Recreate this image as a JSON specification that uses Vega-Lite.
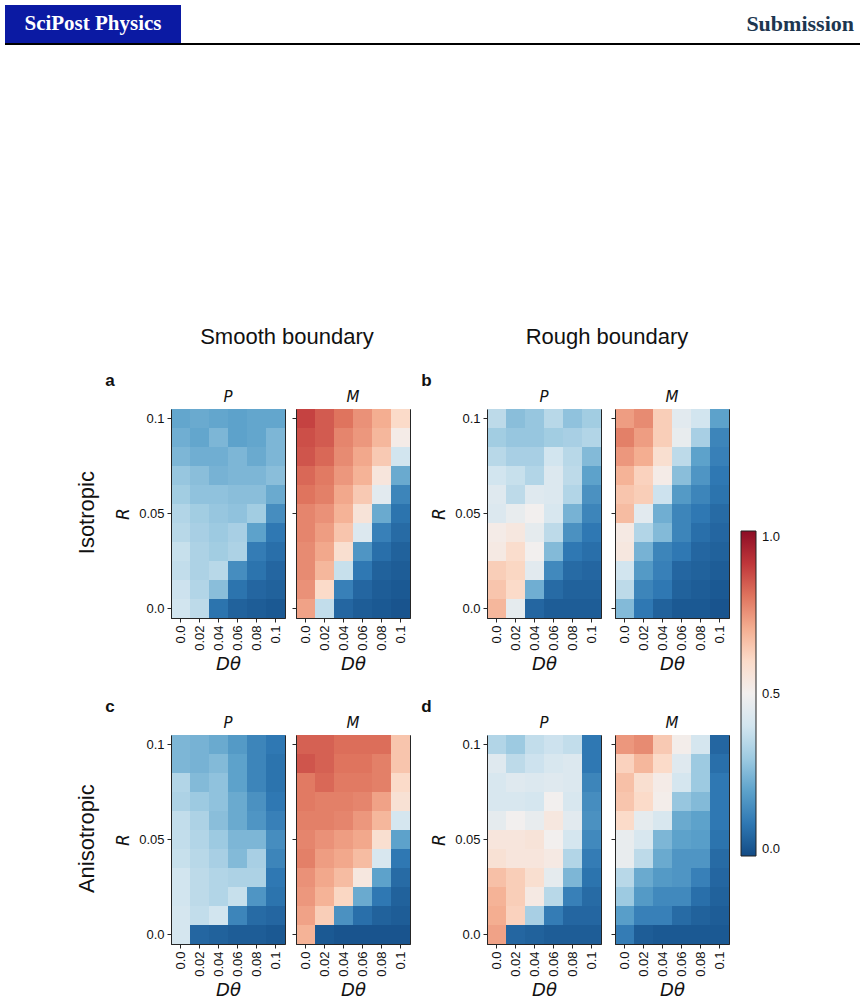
{
"$schema":"https://vega.github.io/schema/vega-lite/v6.json",
"padding":{"left":5,"top":5,"right":0,"bottom":0},
"background":"white",
"datasets":{"cells":[
{"s":"a","k":"P","R":0.1,"D":0,"v":0.21},{"s":"a","k":"P","R":0.1,"D":0.02,"v":0.22},{"s":"a","k":"P","R":0.1,"D":0.04,"v":0.21},{"s":"a","k":"P","R":0.1,"D":0.06,"v":0.2},{"s":"a","k":"P","R":0.1,"D":0.08,"v":0.21},{"s":"a","k":"P","R":0.1,"D":0.1,"v":0.21},
{"s":"a","k":"P","R":0.09,"D":0,"v":0.23},{"s":"a","k":"P","R":0.09,"D":0.02,"v":0.21},{"s":"a","k":"P","R":0.09,"D":0.04,"v":0.25},{"s":"a","k":"P","R":0.09,"D":0.06,"v":0.2},{"s":"a","k":"P","R":0.09,"D":0.08,"v":0.21},{"s":"a","k":"P","R":0.09,"D":0.1,"v":0.25},
{"s":"a","k":"P","R":0.08,"D":0,"v":0.25},{"s":"a","k":"P","R":0.08,"D":0.02,"v":0.23},{"s":"a","k":"P","R":0.08,"D":0.04,"v":0.23},{"s":"a","k":"P","R":0.08,"D":0.06,"v":0.25},{"s":"a","k":"P","R":0.08,"D":0.08,"v":0.22},{"s":"a","k":"P","R":0.08,"D":0.1,"v":0.25},
{"s":"a","k":"P","R":0.07,"D":0,"v":0.29},{"s":"a","k":"P","R":0.07,"D":0.02,"v":0.27},{"s":"a","k":"P","R":0.07,"D":0.04,"v":0.24},{"s":"a","k":"P","R":0.07,"D":0.06,"v":0.25},{"s":"a","k":"P","R":0.07,"D":0.08,"v":0.25},{"s":"a","k":"P","R":0.07,"D":0.1,"v":0.27},
{"s":"a","k":"P","R":0.06,"D":0,"v":0.31},{"s":"a","k":"P","R":0.06,"D":0.02,"v":0.28},{"s":"a","k":"P","R":0.06,"D":0.04,"v":0.28},{"s":"a","k":"P","R":0.06,"D":0.06,"v":0.27},{"s":"a","k":"P","R":0.06,"D":0.08,"v":0.27},{"s":"a","k":"P","R":0.06,"D":0.1,"v":0.22},
{"s":"a","k":"P","R":0.05,"D":0,"v":0.34},{"s":"a","k":"P","R":0.05,"D":0.02,"v":0.31},{"s":"a","k":"P","R":0.05,"D":0.04,"v":0.29},{"s":"a","k":"P","R":0.05,"D":0.06,"v":0.28},{"s":"a","k":"P","R":0.05,"D":0.08,"v":0.31},{"s":"a","k":"P","R":0.05,"D":0.1,"v":0.15},
{"s":"a","k":"P","R":0.04,"D":0,"v":0.35},{"s":"a","k":"P","R":0.04,"D":0.02,"v":0.32},{"s":"a","k":"P","R":0.04,"D":0.04,"v":0.3},{"s":"a","k":"P","R":0.04,"D":0.06,"v":0.32},{"s":"a","k":"P","R":0.04,"D":0.08,"v":0.2},{"s":"a","k":"P","R":0.04,"D":0.1,"v":0.1},
{"s":"a","k":"P","R":0.03,"D":0,"v":0.38},{"s":"a","k":"P","R":0.03,"D":0.02,"v":0.33},{"s":"a","k":"P","R":0.03,"D":0.04,"v":0.31},{"s":"a","k":"P","R":0.03,"D":0.06,"v":0.33},{"s":"a","k":"P","R":0.03,"D":0.08,"v":0.11},{"s":"a","k":"P","R":0.03,"D":0.1,"v":0.08},
{"s":"a","k":"P","R":0.02,"D":0,"v":0.37},{"s":"a","k":"P","R":0.02,"D":0.02,"v":0.33},{"s":"a","k":"P","R":0.02,"D":0.04,"v":0.35},{"s":"a","k":"P","R":0.02,"D":0.06,"v":0.15},{"s":"a","k":"P","R":0.02,"D":0.08,"v":0.09},{"s":"a","k":"P","R":0.02,"D":0.1,"v":0.06},
{"s":"a","k":"P","R":0.01,"D":0,"v":0.39},{"s":"a","k":"P","R":0.01,"D":0.02,"v":0.34},{"s":"a","k":"P","R":0.01,"D":0.04,"v":0.27},{"s":"a","k":"P","R":0.01,"D":0.06,"v":0.09},{"s":"a","k":"P","R":0.01,"D":0.08,"v":0.06},{"s":"a","k":"P","R":0.01,"D":0.1,"v":0.05},
{"s":"a","k":"P","R":0,"D":0,"v":0.4},{"s":"a","k":"P","R":0,"D":0.02,"v":0.36},{"s":"a","k":"P","R":0,"D":0.04,"v":0.09},{"s":"a","k":"P","R":0,"D":0.06,"v":0.05},{"s":"a","k":"P","R":0,"D":0.08,"v":0.04},{"s":"a","k":"P","R":0,"D":0.1,"v":0.03},
{"s":"a","k":"M","R":0.1,"D":0,"v":0.88},{"s":"a","k":"M","R":0.1,"D":0.02,"v":0.84},{"s":"a","k":"M","R":0.1,"D":0.04,"v":0.8},{"s":"a","k":"M","R":0.1,"D":0.06,"v":0.75},{"s":"a","k":"M","R":0.1,"D":0.08,"v":0.7},{"s":"a","k":"M","R":0.1,"D":0.1,"v":0.6},
{"s":"a","k":"M","R":0.09,"D":0,"v":0.86},{"s":"a","k":"M","R":0.09,"D":0.02,"v":0.84},{"s":"a","k":"M","R":0.09,"D":0.04,"v":0.77},{"s":"a","k":"M","R":0.09,"D":0.06,"v":0.74},{"s":"a","k":"M","R":0.09,"D":0.08,"v":0.68},{"s":"a","k":"M","R":0.09,"D":0.1,"v":0.52},
{"s":"a","k":"M","R":0.08,"D":0,"v":0.85},{"s":"a","k":"M","R":0.08,"D":0.02,"v":0.82},{"s":"a","k":"M","R":0.08,"D":0.04,"v":0.76},{"s":"a","k":"M","R":0.08,"D":0.06,"v":0.71},{"s":"a","k":"M","R":0.08,"D":0.08,"v":0.64},{"s":"a","k":"M","R":0.08,"D":0.1,"v":0.4},
{"s":"a","k":"M","R":0.07,"D":0,"v":0.82},{"s":"a","k":"M","R":0.07,"D":0.02,"v":0.79},{"s":"a","k":"M","R":0.07,"D":0.04,"v":0.74},{"s":"a","k":"M","R":0.07,"D":0.06,"v":0.69},{"s":"a","k":"M","R":0.07,"D":0.08,"v":0.55},{"s":"a","k":"M","R":0.07,"D":0.1,"v":0.22},
{"s":"a","k":"M","R":0.06,"D":0,"v":0.8},{"s":"a","k":"M","R":0.06,"D":0.02,"v":0.78},{"s":"a","k":"M","R":0.06,"D":0.04,"v":0.71},{"s":"a","k":"M","R":0.06,"D":0.06,"v":0.64},{"s":"a","k":"M","R":0.06,"D":0.08,"v":0.45},{"s":"a","k":"M","R":0.06,"D":0.1,"v":0.13},
{"s":"a","k":"M","R":0.05,"D":0,"v":0.77},{"s":"a","k":"M","R":0.05,"D":0.02,"v":0.75},{"s":"a","k":"M","R":0.05,"D":0.04,"v":0.69},{"s":"a","k":"M","R":0.05,"D":0.06,"v":0.56},{"s":"a","k":"M","R":0.05,"D":0.08,"v":0.22},{"s":"a","k":"M","R":0.05,"D":0.1,"v":0.09},
{"s":"a","k":"M","R":0.04,"D":0,"v":0.77},{"s":"a","k":"M","R":0.04,"D":0.02,"v":0.73},{"s":"a","k":"M","R":0.04,"D":0.04,"v":0.65},{"s":"a","k":"M","R":0.04,"D":0.06,"v":0.43},{"s":"a","k":"M","R":0.04,"D":0.08,"v":0.12},{"s":"a","k":"M","R":0.04,"D":0.1,"v":0.07},
{"s":"a","k":"M","R":0.03,"D":0,"v":0.76},{"s":"a","k":"M","R":0.03,"D":0.02,"v":0.71},{"s":"a","k":"M","R":0.03,"D":0.04,"v":0.58},{"s":"a","k":"M","R":0.03,"D":0.06,"v":0.17},{"s":"a","k":"M","R":0.03,"D":0.08,"v":0.08},{"s":"a","k":"M","R":0.03,"D":0.1,"v":0.05},
{"s":"a","k":"M","R":0.02,"D":0,"v":0.76},{"s":"a","k":"M","R":0.02,"D":0.02,"v":0.68},{"s":"a","k":"M","R":0.02,"D":0.04,"v":0.38},{"s":"a","k":"M","R":0.02,"D":0.06,"v":0.1},{"s":"a","k":"M","R":0.02,"D":0.08,"v":0.05},{"s":"a","k":"M","R":0.02,"D":0.1,"v":0.04},
{"s":"a","k":"M","R":0.01,"D":0,"v":0.75},{"s":"a","k":"M","R":0.01,"D":0.02,"v":0.6},{"s":"a","k":"M","R":0.01,"D":0.04,"v":0.12},{"s":"a","k":"M","R":0.01,"D":0.06,"v":0.06},{"s":"a","k":"M","R":0.01,"D":0.08,"v":0.04},{"s":"a","k":"M","R":0.01,"D":0.1,"v":0.03},
{"s":"a","k":"M","R":0,"D":0,"v":0.72},{"s":"a","k":"M","R":0,"D":0.02,"v":0.37},{"s":"a","k":"M","R":0,"D":0.04,"v":0.06},{"s":"a","k":"M","R":0,"D":0.06,"v":0.04},{"s":"a","k":"M","R":0,"D":0.08,"v":0.03},{"s":"a","k":"M","R":0,"D":0.1,"v":0.02},
{"s":"b","k":"P","R":0.1,"D":0,"v":0.36},{"s":"b","k":"P","R":0.1,"D":0.02,"v":0.27},{"s":"b","k":"P","R":0.1,"D":0.04,"v":0.29},{"s":"b","k":"P","R":0.1,"D":0.06,"v":0.35},{"s":"b","k":"P","R":0.1,"D":0.08,"v":0.28},{"s":"b","k":"P","R":0.1,"D":0.1,"v":0.31},
{"s":"b","k":"P","R":0.09,"D":0,"v":0.31},{"s":"b","k":"P","R":0.09,"D":0.02,"v":0.29},{"s":"b","k":"P","R":0.09,"D":0.04,"v":0.29},{"s":"b","k":"P","R":0.09,"D":0.06,"v":0.31},{"s":"b","k":"P","R":0.09,"D":0.08,"v":0.32},{"s":"b","k":"P","R":0.09,"D":0.1,"v":0.34},
{"s":"b","k":"P","R":0.08,"D":0,"v":0.35},{"s":"b","k":"P","R":0.08,"D":0.02,"v":0.32},{"s":"b","k":"P","R":0.08,"D":0.04,"v":0.32},{"s":"b","k":"P","R":0.08,"D":0.06,"v":0.4},{"s":"b","k":"P","R":0.08,"D":0.08,"v":0.35},{"s":"b","k":"P","R":0.08,"D":0.1,"v":0.26},
{"s":"b","k":"P","R":0.07,"D":0,"v":0.4},{"s":"b","k":"P","R":0.07,"D":0.02,"v":0.38},{"s":"b","k":"P","R":0.07,"D":0.04,"v":0.34},{"s":"b","k":"P","R":0.07,"D":0.06,"v":0.43},{"s":"b","k":"P","R":0.07,"D":0.08,"v":0.36},{"s":"b","k":"P","R":0.07,"D":0.1,"v":0.2},
{"s":"b","k":"P","R":0.06,"D":0,"v":0.44},{"s":"b","k":"P","R":0.06,"D":0.02,"v":0.36},{"s":"b","k":"P","R":0.06,"D":0.04,"v":0.44},{"s":"b","k":"P","R":0.06,"D":0.06,"v":0.43},{"s":"b","k":"P","R":0.06,"D":0.08,"v":0.34},{"s":"b","k":"P","R":0.06,"D":0.1,"v":0.16},
{"s":"b","k":"P","R":0.05,"D":0,"v":0.43},{"s":"b","k":"P","R":0.05,"D":0.02,"v":0.47},{"s":"b","k":"P","R":0.05,"D":0.04,"v":0.5},{"s":"b","k":"P","R":0.05,"D":0.06,"v":0.42},{"s":"b","k":"P","R":0.05,"D":0.08,"v":0.24},{"s":"b","k":"P","R":0.05,"D":0.1,"v":0.13},
{"s":"b","k":"P","R":0.04,"D":0,"v":0.52},{"s":"b","k":"P","R":0.04,"D":0.02,"v":0.54},{"s":"b","k":"P","R":0.04,"D":0.04,"v":0.46},{"s":"b","k":"P","R":0.04,"D":0.06,"v":0.36},{"s":"b","k":"P","R":0.04,"D":0.08,"v":0.16},{"s":"b","k":"P","R":0.04,"D":0.1,"v":0.1},
{"s":"b","k":"P","R":0.03,"D":0,"v":0.53},{"s":"b","k":"P","R":0.03,"D":0.02,"v":0.59},{"s":"b","k":"P","R":0.03,"D":0.04,"v":0.5},{"s":"b","k":"P","R":0.03,"D":0.06,"v":0.26},{"s":"b","k":"P","R":0.03,"D":0.08,"v":0.1},{"s":"b","k":"P","R":0.03,"D":0.1,"v":0.08},
{"s":"b","k":"P","R":0.02,"D":0,"v":0.63},{"s":"b","k":"P","R":0.02,"D":0.02,"v":0.61},{"s":"b","k":"P","R":0.02,"D":0.04,"v":0.45},{"s":"b","k":"P","R":0.02,"D":0.06,"v":0.14},{"s":"b","k":"P","R":0.02,"D":0.08,"v":0.07},{"s":"b","k":"P","R":0.02,"D":0.1,"v":0.06},
{"s":"b","k":"P","R":0.01,"D":0,"v":0.65},{"s":"b","k":"P","R":0.01,"D":0.02,"v":0.6},{"s":"b","k":"P","R":0.01,"D":0.04,"v":0.23},{"s":"b","k":"P","R":0.01,"D":0.06,"v":0.07},{"s":"b","k":"P","R":0.01,"D":0.08,"v":0.05},{"s":"b","k":"P","R":0.01,"D":0.1,"v":0.05},
{"s":"b","k":"P","R":0,"D":0,"v":0.68},{"s":"b","k":"P","R":0,"D":0.02,"v":0.46},{"s":"b","k":"P","R":0,"D":0.04,"v":0.06},{"s":"b","k":"P","R":0,"D":0.06,"v":0.04},{"s":"b","k":"P","R":0,"D":0.08,"v":0.04},{"s":"b","k":"P","R":0,"D":0.1,"v":0.04},
{"s":"b","k":"M","R":0.1,"D":0,"v":0.73},{"s":"b","k":"M","R":0.1,"D":0.02,"v":0.76},{"s":"b","k":"M","R":0.1,"D":0.04,"v":0.63},{"s":"b","k":"M","R":0.1,"D":0.06,"v":0.45},{"s":"b","k":"M","R":0.1,"D":0.08,"v":0.4},{"s":"b","k":"M","R":0.1,"D":0.1,"v":0.2},
{"s":"b","k":"M","R":0.09,"D":0,"v":0.78},{"s":"b","k":"M","R":0.09,"D":0.02,"v":0.73},{"s":"b","k":"M","R":0.09,"D":0.04,"v":0.63},{"s":"b","k":"M","R":0.09,"D":0.06,"v":0.47},{"s":"b","k":"M","R":0.09,"D":0.08,"v":0.32},{"s":"b","k":"M","R":0.09,"D":0.1,"v":0.13},
{"s":"b","k":"M","R":0.08,"D":0,"v":0.74},{"s":"b","k":"M","R":0.08,"D":0.02,"v":0.7},{"s":"b","k":"M","R":0.08,"D":0.04,"v":0.58},{"s":"b","k":"M","R":0.08,"D":0.06,"v":0.36},{"s":"b","k":"M","R":0.08,"D":0.08,"v":0.2},{"s":"b","k":"M","R":0.08,"D":0.1,"v":0.12},
{"s":"b","k":"M","R":0.07,"D":0,"v":0.69},{"s":"b","k":"M","R":0.07,"D":0.02,"v":0.62},{"s":"b","k":"M","R":0.07,"D":0.04,"v":0.52},{"s":"b","k":"M","R":0.07,"D":0.06,"v":0.27},{"s":"b","k":"M","R":0.07,"D":0.08,"v":0.17},{"s":"b","k":"M","R":0.07,"D":0.1,"v":0.1},
{"s":"b","k":"M","R":0.06,"D":0,"v":0.65},{"s":"b","k":"M","R":0.06,"D":0.02,"v":0.63},{"s":"b","k":"M","R":0.06,"D":0.04,"v":0.39},{"s":"b","k":"M","R":0.06,"D":0.06,"v":0.18},{"s":"b","k":"M","R":0.06,"D":0.08,"v":0.13},{"s":"b","k":"M","R":0.06,"D":0.1,"v":0.09},
{"s":"b","k":"M","R":0.05,"D":0,"v":0.67},{"s":"b","k":"M","R":0.05,"D":0.02,"v":0.45},{"s":"b","k":"M","R":0.05,"D":0.04,"v":0.23},{"s":"b","k":"M","R":0.05,"D":0.06,"v":0.13},{"s":"b","k":"M","R":0.05,"D":0.08,"v":0.1},{"s":"b","k":"M","R":0.05,"D":0.1,"v":0.07},
{"s":"b","k":"M","R":0.04,"D":0,"v":0.53},{"s":"b","k":"M","R":0.04,"D":0.02,"v":0.34},{"s":"b","k":"M","R":0.04,"D":0.04,"v":0.26},{"s":"b","k":"M","R":0.04,"D":0.06,"v":0.13},{"s":"b","k":"M","R":0.04,"D":0.08,"v":0.08},{"s":"b","k":"M","R":0.04,"D":0.1,"v":0.06},
{"s":"b","k":"M","R":0.03,"D":0,"v":0.54},{"s":"b","k":"M","R":0.03,"D":0.02,"v":0.24},{"s":"b","k":"M","R":0.03,"D":0.04,"v":0.13},{"s":"b","k":"M","R":0.03,"D":0.06,"v":0.1},{"s":"b","k":"M","R":0.03,"D":0.08,"v":0.06},{"s":"b","k":"M","R":0.03,"D":0.1,"v":0.05},
{"s":"b","k":"M","R":0.02,"D":0,"v":0.4},{"s":"b","k":"M","R":0.02,"D":0.02,"v":0.18},{"s":"b","k":"M","R":0.02,"D":0.04,"v":0.12},{"s":"b","k":"M","R":0.02,"D":0.06,"v":0.06},{"s":"b","k":"M","R":0.02,"D":0.08,"v":0.05},{"s":"b","k":"M","R":0.02,"D":0.1,"v":0.04},
{"s":"b","k":"M","R":0.01,"D":0,"v":0.36},{"s":"b","k":"M","R":0.01,"D":0.02,"v":0.13},{"s":"b","k":"M","R":0.01,"D":0.04,"v":0.1},{"s":"b","k":"M","R":0.01,"D":0.06,"v":0.05},{"s":"b","k":"M","R":0.01,"D":0.08,"v":0.04},{"s":"b","k":"M","R":0.01,"D":0.1,"v":0.03},
{"s":"b","k":"M","R":0,"D":0,"v":0.26},{"s":"b","k":"M","R":0,"D":0.02,"v":0.1},{"s":"b","k":"M","R":0,"D":0.04,"v":0.05},{"s":"b","k":"M","R":0,"D":0.06,"v":0.03},{"s":"b","k":"M","R":0,"D":0.08,"v":0.03},{"s":"b","k":"M","R":0,"D":0.1,"v":0.02},
{"s":"c","k":"P","R":0.1,"D":0,"v":0.25},{"s":"c","k":"P","R":0.1,"D":0.02,"v":0.24},{"s":"c","k":"P","R":0.1,"D":0.04,"v":0.22},{"s":"c","k":"P","R":0.1,"D":0.06,"v":0.18},{"s":"c","k":"P","R":0.1,"D":0.08,"v":0.13},{"s":"c","k":"P","R":0.1,"D":0.1,"v":0.1},
{"s":"c","k":"P","R":0.09,"D":0,"v":0.25},{"s":"c","k":"P","R":0.09,"D":0.02,"v":0.24},{"s":"c","k":"P","R":0.09,"D":0.04,"v":0.26},{"s":"c","k":"P","R":0.09,"D":0.06,"v":0.2},{"s":"c","k":"P","R":0.09,"D":0.08,"v":0.13},{"s":"c","k":"P","R":0.09,"D":0.1,"v":0.09},
{"s":"c","k":"P","R":0.08,"D":0,"v":0.34},{"s":"c","k":"P","R":0.08,"D":0.02,"v":0.26},{"s":"c","k":"P","R":0.08,"D":0.04,"v":0.28},{"s":"c","k":"P","R":0.08,"D":0.06,"v":0.2},{"s":"c","k":"P","R":0.08,"D":0.08,"v":0.13},{"s":"c","k":"P","R":0.08,"D":0.1,"v":0.09},
{"s":"c","k":"P","R":0.07,"D":0,"v":0.33},{"s":"c","k":"P","R":0.07,"D":0.02,"v":0.3},{"s":"c","k":"P","R":0.07,"D":0.04,"v":0.28},{"s":"c","k":"P","R":0.07,"D":0.06,"v":0.22},{"s":"c","k":"P","R":0.07,"D":0.08,"v":0.16},{"s":"c","k":"P","R":0.07,"D":0.1,"v":0.1},
{"s":"c","k":"P","R":0.06,"D":0,"v":0.37},{"s":"c","k":"P","R":0.06,"D":0.02,"v":0.33},{"s":"c","k":"P","R":0.06,"D":0.04,"v":0.27},{"s":"c","k":"P","R":0.06,"D":0.06,"v":0.22},{"s":"c","k":"P","R":0.06,"D":0.08,"v":0.17},{"s":"c","k":"P","R":0.06,"D":0.1,"v":0.12},
{"s":"c","k":"P","R":0.05,"D":0,"v":0.37},{"s":"c","k":"P","R":0.05,"D":0.02,"v":0.34},{"s":"c","k":"P","R":0.05,"D":0.04,"v":0.3},{"s":"c","k":"P","R":0.05,"D":0.06,"v":0.25},{"s":"c","k":"P","R":0.05,"D":0.08,"v":0.25},{"s":"c","k":"P","R":0.05,"D":0.1,"v":0.15},
{"s":"c","k":"P","R":0.04,"D":0,"v":0.38},{"s":"c","k":"P","R":0.04,"D":0.02,"v":0.35},{"s":"c","k":"P","R":0.04,"D":0.04,"v":0.32},{"s":"c","k":"P","R":0.04,"D":0.06,"v":0.26},{"s":"c","k":"P","R":0.04,"D":0.08,"v":0.32},{"s":"c","k":"P","R":0.04,"D":0.1,"v":0.13},
{"s":"c","k":"P","R":0.03,"D":0,"v":0.4},{"s":"c","k":"P","R":0.03,"D":0.02,"v":0.36},{"s":"c","k":"P","R":0.03,"D":0.04,"v":0.34},{"s":"c","k":"P","R":0.03,"D":0.06,"v":0.33},{"s":"c","k":"P","R":0.03,"D":0.08,"v":0.33},{"s":"c","k":"P","R":0.03,"D":0.1,"v":0.1},
{"s":"c","k":"P","R":0.02,"D":0,"v":0.4},{"s":"c","k":"P","R":0.02,"D":0.02,"v":0.36},{"s":"c","k":"P","R":0.02,"D":0.04,"v":0.34},{"s":"c","k":"P","R":0.02,"D":0.06,"v":0.38},{"s":"c","k":"P","R":0.02,"D":0.08,"v":0.17},{"s":"c","k":"P","R":0.02,"D":0.1,"v":0.09},
{"s":"c","k":"P","R":0.01,"D":0,"v":0.41},{"s":"c","k":"P","R":0.01,"D":0.02,"v":0.37},{"s":"c","k":"P","R":0.01,"D":0.04,"v":0.4},{"s":"c","k":"P","R":0.01,"D":0.06,"v":0.13},{"s":"c","k":"P","R":0.01,"D":0.08,"v":0.07},{"s":"c","k":"P","R":0.01,"D":0.1,"v":0.06},
{"s":"c","k":"P","R":0,"D":0,"v":0.41},{"s":"c","k":"P","R":0,"D":0.02,"v":0.06},{"s":"c","k":"P","R":0,"D":0.04,"v":0.05},{"s":"c","k":"P","R":0,"D":0.06,"v":0.04},{"s":"c","k":"P","R":0,"D":0.08,"v":0.04},{"s":"c","k":"P","R":0,"D":0.1,"v":0.03},
{"s":"c","k":"M","R":0.1,"D":0,"v":0.83},{"s":"c","k":"M","R":0.1,"D":0.02,"v":0.83},{"s":"c","k":"M","R":0.1,"D":0.04,"v":0.81},{"s":"c","k":"M","R":0.1,"D":0.06,"v":0.81},{"s":"c","k":"M","R":0.1,"D":0.08,"v":0.81},{"s":"c","k":"M","R":0.1,"D":0.1,"v":0.65},
{"s":"c","k":"M","R":0.09,"D":0,"v":0.85},{"s":"c","k":"M","R":0.09,"D":0.02,"v":0.83},{"s":"c","k":"M","R":0.09,"D":0.04,"v":0.8},{"s":"c","k":"M","R":0.09,"D":0.06,"v":0.8},{"s":"c","k":"M","R":0.09,"D":0.08,"v":0.78},{"s":"c","k":"M","R":0.09,"D":0.1,"v":0.65},
{"s":"c","k":"M","R":0.08,"D":0,"v":0.79},{"s":"c","k":"M","R":0.08,"D":0.02,"v":0.82},{"s":"c","k":"M","R":0.08,"D":0.04,"v":0.79},{"s":"c","k":"M","R":0.08,"D":0.06,"v":0.79},{"s":"c","k":"M","R":0.08,"D":0.08,"v":0.78},{"s":"c","k":"M","R":0.08,"D":0.1,"v":0.6},
{"s":"c","k":"M","R":0.07,"D":0,"v":0.79},{"s":"c","k":"M","R":0.07,"D":0.02,"v":0.78},{"s":"c","k":"M","R":0.07,"D":0.04,"v":0.78},{"s":"c","k":"M","R":0.07,"D":0.06,"v":0.77},{"s":"c","k":"M","R":0.07,"D":0.08,"v":0.72},{"s":"c","k":"M","R":0.07,"D":0.1,"v":0.57},
{"s":"c","k":"M","R":0.06,"D":0,"v":0.78},{"s":"c","k":"M","R":0.06,"D":0.02,"v":0.78},{"s":"c","k":"M","R":0.06,"D":0.04,"v":0.77},{"s":"c","k":"M","R":0.06,"D":0.06,"v":0.74},{"s":"c","k":"M","R":0.06,"D":0.08,"v":0.68},{"s":"c","k":"M","R":0.06,"D":0.1,"v":0.41},
{"s":"c","k":"M","R":0.05,"D":0,"v":0.77},{"s":"c","k":"M","R":0.05,"D":0.02,"v":0.75},{"s":"c","k":"M","R":0.05,"D":0.04,"v":0.73},{"s":"c","k":"M","R":0.05,"D":0.06,"v":0.71},{"s":"c","k":"M","R":0.05,"D":0.08,"v":0.58},{"s":"c","k":"M","R":0.05,"D":0.1,"v":0.2},
{"s":"c","k":"M","R":0.04,"D":0,"v":0.78},{"s":"c","k":"M","R":0.04,"D":0.02,"v":0.73},{"s":"c","k":"M","R":0.04,"D":0.04,"v":0.71},{"s":"c","k":"M","R":0.04,"D":0.06,"v":0.67},{"s":"c","k":"M","R":0.04,"D":0.08,"v":0.42},{"s":"c","k":"M","R":0.04,"D":0.1,"v":0.1},
{"s":"c","k":"M","R":0.03,"D":0,"v":0.75},{"s":"c","k":"M","R":0.03,"D":0.02,"v":0.71},{"s":"c","k":"M","R":0.03,"D":0.04,"v":0.67},{"s":"c","k":"M","R":0.03,"D":0.06,"v":0.54},{"s":"c","k":"M","R":0.03,"D":0.08,"v":0.2},{"s":"c","k":"M","R":0.03,"D":0.1,"v":0.07},
{"s":"c","k":"M","R":0.02,"D":0,"v":0.74},{"s":"c","k":"M","R":0.02,"D":0.02,"v":0.69},{"s":"c","k":"M","R":0.02,"D":0.04,"v":0.61},{"s":"c","k":"M","R":0.02,"D":0.06,"v":0.22},{"s":"c","k":"M","R":0.02,"D":0.08,"v":0.1},{"s":"c","k":"M","R":0.02,"D":0.1,"v":0.05},
{"s":"c","k":"M","R":0.01,"D":0,"v":0.72},{"s":"c","k":"M","R":0.01,"D":0.02,"v":0.63},{"s":"c","k":"M","R":0.01,"D":0.04,"v":0.16},{"s":"c","k":"M","R":0.01,"D":0.06,"v":0.08},{"s":"c","k":"M","R":0.01,"D":0.08,"v":0.05},{"s":"c","k":"M","R":0.01,"D":0.1,"v":0.04},
{"s":"c","k":"M","R":0,"D":0,"v":0.69},{"s":"c","k":"M","R":0,"D":0.02,"v":0.03},{"s":"c","k":"M","R":0,"D":0.04,"v":0.02},{"s":"c","k":"M","R":0,"D":0.06,"v":0.02},{"s":"c","k":"M","R":0,"D":0.08,"v":0.02},{"s":"c","k":"M","R":0,"D":0.1,"v":0.02},
{"s":"d","k":"P","R":0.1,"D":0,"v":0.34},{"s":"d","k":"P","R":0.1,"D":0.02,"v":0.3},{"s":"d","k":"P","R":0.1,"D":0.04,"v":0.37},{"s":"d","k":"P","R":0.1,"D":0.06,"v":0.39},{"s":"d","k":"P","R":0.1,"D":0.08,"v":0.37},{"s":"d","k":"P","R":0.1,"D":0.1,"v":0.1},
{"s":"d","k":"P","R":0.09,"D":0,"v":0.44},{"s":"d","k":"P","R":0.09,"D":0.02,"v":0.36},{"s":"d","k":"P","R":0.09,"D":0.04,"v":0.39},{"s":"d","k":"P","R":0.09,"D":0.06,"v":0.42},{"s":"d","k":"P","R":0.09,"D":0.08,"v":0.43},{"s":"d","k":"P","R":0.09,"D":0.1,"v":0.1},
{"s":"d","k":"P","R":0.08,"D":0,"v":0.42},{"s":"d","k":"P","R":0.08,"D":0.02,"v":0.44},{"s":"d","k":"P","R":0.08,"D":0.04,"v":0.43},{"s":"d","k":"P","R":0.08,"D":0.06,"v":0.44},{"s":"d","k":"P","R":0.08,"D":0.08,"v":0.43},{"s":"d","k":"P","R":0.08,"D":0.1,"v":0.13},
{"s":"d","k":"P","R":0.07,"D":0,"v":0.42},{"s":"d","k":"P","R":0.07,"D":0.02,"v":0.42},{"s":"d","k":"P","R":0.07,"D":0.04,"v":0.41},{"s":"d","k":"P","R":0.07,"D":0.06,"v":0.5},{"s":"d","k":"P","R":0.07,"D":0.08,"v":0.42},{"s":"d","k":"P","R":0.07,"D":0.1,"v":0.15},
{"s":"d","k":"P","R":0.06,"D":0,"v":0.46},{"s":"d","k":"P","R":0.06,"D":0.02,"v":0.5},{"s":"d","k":"P","R":0.06,"D":0.04,"v":0.47},{"s":"d","k":"P","R":0.06,"D":0.06,"v":0.54},{"s":"d","k":"P","R":0.06,"D":0.08,"v":0.45},{"s":"d","k":"P","R":0.06,"D":0.1,"v":0.16},
{"s":"d","k":"P","R":0.05,"D":0,"v":0.55},{"s":"d","k":"P","R":0.05,"D":0.02,"v":0.55},{"s":"d","k":"P","R":0.05,"D":0.04,"v":0.56},{"s":"d","k":"P","R":0.05,"D":0.06,"v":0.5},{"s":"d","k":"P","R":0.05,"D":0.08,"v":0.41},{"s":"d","k":"P","R":0.05,"D":0.1,"v":0.14},
{"s":"d","k":"P","R":0.04,"D":0,"v":0.57},{"s":"d","k":"P","R":0.04,"D":0.02,"v":0.55},{"s":"d","k":"P","R":0.04,"D":0.04,"v":0.55},{"s":"d","k":"P","R":0.04,"D":0.06,"v":0.53},{"s":"d","k":"P","R":0.04,"D":0.08,"v":0.34},{"s":"d","k":"P","R":0.04,"D":0.1,"v":0.11},
{"s":"d","k":"P","R":0.03,"D":0,"v":0.66},{"s":"d","k":"P","R":0.03,"D":0.02,"v":0.63},{"s":"d","k":"P","R":0.03,"D":0.04,"v":0.58},{"s":"d","k":"P","R":0.03,"D":0.06,"v":0.46},{"s":"d","k":"P","R":0.03,"D":0.08,"v":0.25},{"s":"d","k":"P","R":0.03,"D":0.1,"v":0.09},
{"s":"d","k":"P","R":0.02,"D":0,"v":0.69},{"s":"d","k":"P","R":0.02,"D":0.02,"v":0.63},{"s":"d","k":"P","R":0.02,"D":0.04,"v":0.53},{"s":"d","k":"P","R":0.02,"D":0.06,"v":0.35},{"s":"d","k":"P","R":0.02,"D":0.08,"v":0.12},{"s":"d","k":"P","R":0.02,"D":0.1,"v":0.07},
{"s":"d","k":"P","R":0.01,"D":0,"v":0.7},{"s":"d","k":"P","R":0.01,"D":0.02,"v":0.62},{"s":"d","k":"P","R":0.01,"D":0.04,"v":0.32},{"s":"d","k":"P","R":0.01,"D":0.06,"v":0.11},{"s":"d","k":"P","R":0.01,"D":0.08,"v":0.06},{"s":"d","k":"P","R":0.01,"D":0.1,"v":0.06},
{"s":"d","k":"P","R":0,"D":0,"v":0.72},{"s":"d","k":"P","R":0,"D":0.02,"v":0.06},{"s":"d","k":"P","R":0,"D":0.04,"v":0.05},{"s":"d","k":"P","R":0,"D":0.06,"v":0.04},{"s":"d","k":"P","R":0,"D":0.08,"v":0.04},{"s":"d","k":"P","R":0,"D":0.1,"v":0.04},
{"s":"d","k":"M","R":0.1,"D":0,"v":0.74},{"s":"d","k":"M","R":0.1,"D":0.02,"v":0.76},{"s":"d","k":"M","R":0.1,"D":0.04,"v":0.64},{"s":"d","k":"M","R":0.1,"D":0.06,"v":0.51},{"s":"d","k":"M","R":0.1,"D":0.08,"v":0.41},{"s":"d","k":"M","R":0.1,"D":0.1,"v":0.06},
{"s":"d","k":"M","R":0.09,"D":0,"v":0.62},{"s":"d","k":"M","R":0.09,"D":0.02,"v":0.68},{"s":"d","k":"M","R":0.09,"D":0.04,"v":0.6},{"s":"d","k":"M","R":0.09,"D":0.06,"v":0.44},{"s":"d","k":"M","R":0.09,"D":0.08,"v":0.3},{"s":"d","k":"M","R":0.09,"D":0.1,"v":0.08},
{"s":"d","k":"M","R":0.08,"D":0,"v":0.66},{"s":"d","k":"M","R":0.08,"D":0.02,"v":0.58},{"s":"d","k":"M","R":0.08,"D":0.04,"v":0.52},{"s":"d","k":"M","R":0.08,"D":0.06,"v":0.41},{"s":"d","k":"M","R":0.08,"D":0.08,"v":0.3},{"s":"d","k":"M","R":0.08,"D":0.1,"v":0.1},
{"s":"d","k":"M","R":0.07,"D":0,"v":0.65},{"s":"d","k":"M","R":0.07,"D":0.02,"v":0.6},{"s":"d","k":"M","R":0.07,"D":0.04,"v":0.51},{"s":"d","k":"M","R":0.07,"D":0.06,"v":0.29},{"s":"d","k":"M","R":0.07,"D":0.08,"v":0.26},{"s":"d","k":"M","R":0.07,"D":0.1,"v":0.1},
{"s":"d","k":"M","R":0.06,"D":0,"v":0.6},{"s":"d","k":"M","R":0.06,"D":0.02,"v":0.46},{"s":"d","k":"M","R":0.06,"D":0.04,"v":0.42},{"s":"d","k":"M","R":0.06,"D":0.06,"v":0.22},{"s":"d","k":"M","R":0.06,"D":0.08,"v":0.2},{"s":"d","k":"M","R":0.06,"D":0.1,"v":0.1},
{"s":"d","k":"M","R":0.05,"D":0,"v":0.47},{"s":"d","k":"M","R":0.05,"D":0.02,"v":0.42},{"s":"d","k":"M","R":0.05,"D":0.04,"v":0.25},{"s":"d","k":"M","R":0.05,"D":0.06,"v":0.2},{"s":"d","k":"M","R":0.05,"D":0.08,"v":0.19},{"s":"d","k":"M","R":0.05,"D":0.1,"v":0.09},
{"s":"d","k":"M","R":0.04,"D":0,"v":0.47},{"s":"d","k":"M","R":0.04,"D":0.02,"v":0.36},{"s":"d","k":"M","R":0.04,"D":0.04,"v":0.22},{"s":"d","k":"M","R":0.04,"D":0.06,"v":0.17},{"s":"d","k":"M","R":0.04,"D":0.08,"v":0.17},{"s":"d","k":"M","R":0.04,"D":0.1,"v":0.07},
{"s":"d","k":"M","R":0.03,"D":0,"v":0.35},{"s":"d","k":"M","R":0.03,"D":0.02,"v":0.22},{"s":"d","k":"M","R":0.03,"D":0.04,"v":0.18},{"s":"d","k":"M","R":0.03,"D":0.06,"v":0.17},{"s":"d","k":"M","R":0.03,"D":0.08,"v":0.12},{"s":"d","k":"M","R":0.03,"D":0.1,"v":0.06},
{"s":"d","k":"M","R":0.02,"D":0,"v":0.3},{"s":"d","k":"M","R":0.02,"D":0.02,"v":0.18},{"s":"d","k":"M","R":0.02,"D":0.04,"v":0.14},{"s":"d","k":"M","R":0.02,"D":0.06,"v":0.14},{"s":"d","k":"M","R":0.02,"D":0.08,"v":0.08},{"s":"d","k":"M","R":0.02,"D":0.1,"v":0.05},
{"s":"d","k":"M","R":0.01,"D":0,"v":0.19},{"s":"d","k":"M","R":0.01,"D":0.02,"v":0.12},{"s":"d","k":"M","R":0.01,"D":0.04,"v":0.12},{"s":"d","k":"M","R":0.01,"D":0.06,"v":0.07},{"s":"d","k":"M","R":0.01,"D":0.08,"v":0.05},{"s":"d","k":"M","R":0.01,"D":0.1,"v":0.04},
{"s":"d","k":"M","R":0,"D":0,"v":0.11},{"s":"d","k":"M","R":0,"D":0.02,"v":0.04},{"s":"d","k":"M","R":0,"D":0.04,"v":0.03},{"s":"d","k":"M","R":0,"D":0.06,"v":0.03},{"s":"d","k":"M","R":0,"D":0.08,"v":0.03},{"s":"d","k":"M","R":0,"D":0.1,"v":0.03}
]},
"spacing":281,
"vconcat":[
 {"spacing":0,"vconcat":[
  {"spacing":0,"hconcat":[
   {"data":{"values":[{"t":"SciPost Physics"}]},"width":176,"height":38,"view":{"fill":"#0b1aa3","stroke":null},"mark":{"type":"text","font":"Liberation Serif","fontWeight":"bold","fontSize":21,"color":"white"},"encoding":{"text":{"field":"t"}}},
   {"data":{"values":[{"t":"Submission"}]},"width":679,"height":38,"view":{"stroke":null},"mark":{"type":"text","font":"Liberation Serif","fontWeight":"bold","fontSize":22,"color":"#1d3650","align":"right","x":"width","dx":-6},"encoding":{"text":{"field":"t"}}}
  ]},
  {"data":{"values":[]},"width":855,"height":2,"view":{"fill":"#000000","stroke":null},"mark":"point","encoding":{}}
 ]},
 {"spacing":0,"hconcat":[
  {"data":{"values":[]},"width":71,"height":1,"view":{"stroke":null},"mark":"point","encoding":{}},
  {"spacing":23,"vconcat":[
   {"spacing":0,"hconcat":[
    {"data":{"values":[]},"width":232,"height":1,"view":{"stroke":null},"mark":"point","encoding":{},"title":{"text":"Smooth boundary","anchor":"middle","frame":"group","font":"Liberation Sans","fontSize":22,"fontWeight":"normal","color":"#111","offset":-3}},
    {"data":{"values":[]},"width":408,"height":1,"view":{"stroke":null},"mark":"point","encoding":{},"title":{"text":"Rough boundary","anchor":"middle","frame":"group","font":"Liberation Sans","fontSize":22,"fontWeight":"normal","color":"#111","offset":-3}}
   ]},
   {"spacing":10,"title":{"text":"Isotropic","orient":"left","anchor":"middle","font":"Liberation Sans","fontSize":22,"fontWeight":"normal","color":"#111","offset":6,"dx":10},"hconcat":[
    {"spacing":5,"title":{"text":"a","anchor":"start","frame":"bounds","font":"Liberation Sans","fontSize":17,"fontWeight":"bold","color":"#111","offset":0,"dx":-9},"hconcat":[
     {"data":{"name":"cells"},"transform":[{"filter":"datum.s==='a'&&datum.k==='P'"}],"width":114,"height":209,"title":{"text":"P","anchor":"middle","font":"DejaVu Sans","fontStyle":"italic","fontSize":15,"fontWeight":"normal","color":"#111","offset":4},"mark":"rect","encoding":{"x":{"field":"D","type":"ordinal","sort":"ascending","scale":{"paddingInner":0,"paddingOuter":0},"axis":{"labelAngle":-90,"labelExpr":"datum.value===0?'0.0':datum.label","title":"Dθ","titleFontSize":18}},"y":{"field":"R","type":"ordinal","sort":"descending","scale":{"paddingInner":0,"paddingOuter":0},"axis":{"values":[0.1,0.05,0],"labelExpr":"datum.value===0?'0.0':datum.label","title":"R"}},"color":{"field":"v","type":"quantitative","scale":{"scheme":"redblue","reverse":true,"domain":[0,1]},"legend":{"title":null,"orient":"none","legendX":736,"legendY":526,"direction":"vertical","gradientLength":325,"gradientThickness":15,"values":[0,0.5,1],"format":".1f","labelFont":"Liberation Sans","labelFontSize":13,"labelColor":"#111","labelOffset":6,"gradientStrokeColor":"#222","gradientStrokeWidth":1}}}},
     {"data":{"name":"cells"},"transform":[{"filter":"datum.s==='a'&&datum.k==='M'"}],"width":114,"height":209,"title":{"text":"M","anchor":"middle","font":"DejaVu Sans","fontStyle":"italic","fontSize":15,"fontWeight":"normal","color":"#111","offset":4},"mark":"rect","encoding":{"x":{"field":"D","type":"ordinal","sort":"ascending","scale":{"paddingInner":0,"paddingOuter":0},"axis":{"labelAngle":-90,"labelExpr":"datum.value===0?'0.0':datum.label","title":"Dθ","titleFontSize":18}},"y":{"field":"R","type":"ordinal","sort":"descending","scale":{"paddingInner":0,"paddingOuter":0},"axis":{"values":[0.1,0.05,0],"labels":false,"title":null}},"color":{"field":"v","type":"quantitative","scale":{"scheme":"redblue","reverse":true,"domain":[0,1]},"legend":{"title":null,"orient":"none","legendX":736,"legendY":526,"direction":"vertical","gradientLength":325,"gradientThickness":15,"values":[0,0.5,1],"format":".1f","labelFont":"Liberation Sans","labelFontSize":13,"labelColor":"#111","labelOffset":6,"gradientStrokeColor":"#222","gradientStrokeWidth":1}}}}
    ]},
    {"spacing":8,"title":{"text":"b","anchor":"start","frame":"bounds","font":"Liberation Sans","fontSize":17,"fontWeight":"bold","color":"#111","offset":0,"dx":-9},"hconcat":[
     {"data":{"name":"cells"},"transform":[{"filter":"datum.s==='b'&&datum.k==='P'"}],"width":114,"height":209,"title":{"text":"P","anchor":"middle","font":"DejaVu Sans","fontStyle":"italic","fontSize":15,"fontWeight":"normal","color":"#111","offset":4},"mark":"rect","encoding":{"x":{"field":"D","type":"ordinal","sort":"ascending","scale":{"paddingInner":0,"paddingOuter":0},"axis":{"labelAngle":-90,"labelExpr":"datum.value===0?'0.0':datum.label","title":"Dθ","titleFontSize":18}},"y":{"field":"R","type":"ordinal","sort":"descending","scale":{"paddingInner":0,"paddingOuter":0},"axis":{"values":[0.1,0.05,0],"labelExpr":"datum.value===0?'0.0':datum.label","title":"R"}},"color":{"field":"v","type":"quantitative","scale":{"scheme":"redblue","reverse":true,"domain":[0,1]},"legend":{"title":null,"orient":"none","legendX":736,"legendY":526,"direction":"vertical","gradientLength":325,"gradientThickness":15,"values":[0,0.5,1],"format":".1f","labelFont":"Liberation Sans","labelFontSize":13,"labelColor":"#111","labelOffset":6,"gradientStrokeColor":"#222","gradientStrokeWidth":1}}}},
     {"data":{"name":"cells"},"transform":[{"filter":"datum.s==='b'&&datum.k==='M'"}],"width":114,"height":209,"title":{"text":"M","anchor":"middle","font":"DejaVu Sans","fontStyle":"italic","fontSize":15,"fontWeight":"normal","color":"#111","offset":4},"mark":"rect","encoding":{"x":{"field":"D","type":"ordinal","sort":"ascending","scale":{"paddingInner":0,"paddingOuter":0},"axis":{"labelAngle":-90,"labelExpr":"datum.value===0?'0.0':datum.label","title":"Dθ","titleFontSize":18}},"y":{"field":"R","type":"ordinal","sort":"descending","scale":{"paddingInner":0,"paddingOuter":0},"axis":{"values":[0.1,0.05,0],"labels":false,"title":null}},"color":{"field":"v","type":"quantitative","scale":{"scheme":"redblue","reverse":true,"domain":[0,1]},"legend":{"title":null,"orient":"none","legendX":736,"legendY":526,"direction":"vertical","gradientLength":325,"gradientThickness":15,"values":[0,0.5,1],"format":".1f","labelFont":"Liberation Sans","labelFontSize":13,"labelColor":"#111","labelOffset":6,"gradientStrokeColor":"#222","gradientStrokeWidth":1}}}}
    ]}
   ]},
   {"spacing":10,"title":{"text":"Anisotropic","orient":"left","anchor":"middle","font":"Liberation Sans","fontSize":22,"fontWeight":"normal","color":"#111","offset":6,"dx":10},"hconcat":[
    {"spacing":5,"title":{"text":"c","anchor":"start","frame":"bounds","font":"Liberation Sans","fontSize":17,"fontWeight":"bold","color":"#111","offset":0,"dx":-9},"hconcat":[
     {"data":{"name":"cells"},"transform":[{"filter":"datum.s==='c'&&datum.k==='P'"}],"width":114,"height":209,"title":{"text":"P","anchor":"middle","font":"DejaVu Sans","fontStyle":"italic","fontSize":15,"fontWeight":"normal","color":"#111","offset":4},"mark":"rect","encoding":{"x":{"field":"D","type":"ordinal","sort":"ascending","scale":{"paddingInner":0,"paddingOuter":0},"axis":{"labelAngle":-90,"labelExpr":"datum.value===0?'0.0':datum.label","title":"Dθ","titleFontSize":18}},"y":{"field":"R","type":"ordinal","sort":"descending","scale":{"paddingInner":0,"paddingOuter":0},"axis":{"values":[0.1,0.05,0],"labelExpr":"datum.value===0?'0.0':datum.label","title":"R"}},"color":{"field":"v","type":"quantitative","scale":{"scheme":"redblue","reverse":true,"domain":[0,1]},"legend":{"title":null,"orient":"none","legendX":736,"legendY":526,"direction":"vertical","gradientLength":325,"gradientThickness":15,"values":[0,0.5,1],"format":".1f","labelFont":"Liberation Sans","labelFontSize":13,"labelColor":"#111","labelOffset":6,"gradientStrokeColor":"#222","gradientStrokeWidth":1}}}},
     {"data":{"name":"cells"},"transform":[{"filter":"datum.s==='c'&&datum.k==='M'"}],"width":114,"height":209,"title":{"text":"M","anchor":"middle","font":"DejaVu Sans","fontStyle":"italic","fontSize":15,"fontWeight":"normal","color":"#111","offset":4},"mark":"rect","encoding":{"x":{"field":"D","type":"ordinal","sort":"ascending","scale":{"paddingInner":0,"paddingOuter":0},"axis":{"labelAngle":-90,"labelExpr":"datum.value===0?'0.0':datum.label","title":"Dθ","titleFontSize":18}},"y":{"field":"R","type":"ordinal","sort":"descending","scale":{"paddingInner":0,"paddingOuter":0},"axis":{"values":[0.1,0.05,0],"labels":false,"title":null}},"color":{"field":"v","type":"quantitative","scale":{"scheme":"redblue","reverse":true,"domain":[0,1]},"legend":{"title":null,"orient":"none","legendX":736,"legendY":526,"direction":"vertical","gradientLength":325,"gradientThickness":15,"values":[0,0.5,1],"format":".1f","labelFont":"Liberation Sans","labelFontSize":13,"labelColor":"#111","labelOffset":6,"gradientStrokeColor":"#222","gradientStrokeWidth":1}}}}
    ]},
    {"spacing":8,"title":{"text":"d","anchor":"start","frame":"bounds","font":"Liberation Sans","fontSize":17,"fontWeight":"bold","color":"#111","offset":0,"dx":-9},"hconcat":[
     {"data":{"name":"cells"},"transform":[{"filter":"datum.s==='d'&&datum.k==='P'"}],"width":114,"height":209,"title":{"text":"P","anchor":"middle","font":"DejaVu Sans","fontStyle":"italic","fontSize":15,"fontWeight":"normal","color":"#111","offset":4},"mark":"rect","encoding":{"x":{"field":"D","type":"ordinal","sort":"ascending","scale":{"paddingInner":0,"paddingOuter":0},"axis":{"labelAngle":-90,"labelExpr":"datum.value===0?'0.0':datum.label","title":"Dθ","titleFontSize":18}},"y":{"field":"R","type":"ordinal","sort":"descending","scale":{"paddingInner":0,"paddingOuter":0},"axis":{"values":[0.1,0.05,0],"labelExpr":"datum.value===0?'0.0':datum.label","title":"R"}},"color":{"field":"v","type":"quantitative","scale":{"scheme":"redblue","reverse":true,"domain":[0,1]},"legend":{"title":null,"orient":"none","legendX":736,"legendY":526,"direction":"vertical","gradientLength":325,"gradientThickness":15,"values":[0,0.5,1],"format":".1f","labelFont":"Liberation Sans","labelFontSize":13,"labelColor":"#111","labelOffset":6,"gradientStrokeColor":"#222","gradientStrokeWidth":1}}}},
     {"data":{"name":"cells"},"transform":[{"filter":"datum.s==='d'&&datum.k==='M'"}],"width":114,"height":209,"title":{"text":"M","anchor":"middle","font":"DejaVu Sans","fontStyle":"italic","fontSize":15,"fontWeight":"normal","color":"#111","offset":4},"mark":"rect","encoding":{"x":{"field":"D","type":"ordinal","sort":"ascending","scale":{"paddingInner":0,"paddingOuter":0},"axis":{"labelAngle":-90,"labelExpr":"datum.value===0?'0.0':datum.label","title":"Dθ","titleFontSize":18}},"y":{"field":"R","type":"ordinal","sort":"descending","scale":{"paddingInner":0,"paddingOuter":0},"axis":{"values":[0.1,0.05,0],"labels":false,"title":null}},"color":{"field":"v","type":"quantitative","scale":{"scheme":"redblue","reverse":true,"domain":[0,1]},"legend":{"title":null,"orient":"none","legendX":736,"legendY":526,"direction":"vertical","gradientLength":325,"gradientThickness":15,"values":[0,0.5,1],"format":".1f","labelFont":"Liberation Sans","labelFontSize":13,"labelColor":"#111","labelOffset":6,"gradientStrokeColor":"#222","gradientStrokeWidth":1}}}}
    ]}
   ]}
  ]}
 ]}
],
"config":{
 "view":{"stroke":"#262626","strokeWidth":1},
 "axis":{"grid":false,"domainColor":"#262626","tickColor":"#262626","tickSize":4,"labelFont":"Liberation Sans","labelFontSize":13,"labelColor":"#111","labelPadding":3,"titleFont":"DejaVu Sans","titleFontStyle":"italic","titleFontWeight":"normal","titleFontSize":17,"titleColor":"#111"},
 "axisX":{"titlePadding":5},
 "axisY":{"titlePadding":6}
}
}
